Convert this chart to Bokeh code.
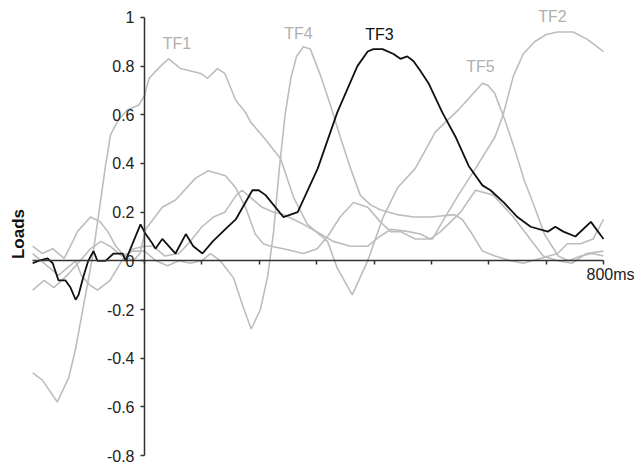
import math
from bokeh.plotting import figure
from bokeh.models import LinearAxis, FixedTicker, Label, Range1d
from bokeh.core.properties import value
from bokeh.embed import file_html
from bokeh.resources import INLINE

# ---------------- data ----------------
t_tf1 = [-195, -178, -152, -138, -132, -120, -106, -91, -80, -68, -59, -45, -30, -10, 0, 8, 28, 42, 63, 98,
         110, 127, 140, 159, 176, 185, 207, 237, 260, 284, 319, 336, 362, 389, 416, 441, 472, 507, 547, 589,
         599, 610, 628, 645, 662, 680, 697, 721, 739, 760, 780, 800]
v_tf1 = [-0.46, -0.49, -0.58, -0.51, -0.48, -0.36, -0.18, 0.01, 0.19, 0.39, 0.52, 0.58, 0.62, 0.64, 0.68, 0.75, 0.80, 0.83, 0.79, 0.77,
         0.75, 0.79, 0.77, 0.66, 0.61, 0.57, 0.51, 0.42, 0.26, 0.15, 0.08, -0.03, -0.14, 0.0, 0.18, 0.30, 0.38, 0.53, 0.62, 0.73,
         0.72, 0.69, 0.58, 0.46, 0.33, 0.22, 0.11, 0.02, 0.0, 0.02, 0.03, 0.02]

t_tf2 = [-195, -178, -160, -140, -125, -117, -94, -77, -64, -50, -35, -20, -8, 2, 31, 54, 89, 111, 141, 159,
         176, 193, 207, 220, 242, 277, 301, 319, 341, 364, 389, 411, 429, 446, 472, 502, 519, 547, 577, 611,
         625, 643, 660, 680, 700, 720, 747, 772, 800]
v_tf2 = [0.06, 0.03, 0.05, 0.01, 0.08, 0.12, 0.18, 0.16, 0.12, 0.06, 0.02, 0.0, 0.03, 0.13, 0.22, 0.25, 0.34, 0.37, 0.35, 0.30,
         0.22, 0.11, 0.07, 0.06, 0.05, 0.03, 0.05, 0.10, 0.18, 0.24, 0.22, 0.16, 0.12, 0.12, 0.09, 0.09, 0.16, 0.27, 0.38, 0.51,
         0.60, 0.76, 0.85, 0.90, 0.93, 0.94, 0.94, 0.91, 0.86]

t_tf4 = [-195, -175, -158, -135, -112, -94, -76, -60, -40, -20, 0, 20, 40, 60, 80, 100, 115, 132, 155, 172,
         186, 202, 215, 225, 235, 245, 255, 265, 277, 289, 307, 324, 341, 359, 376, 394, 411, 440, 470, 500,
         540, 554, 571, 589, 611, 638, 660, 690, 720, 737, 760, 782, 800]
v_tf4 = [-0.12, -0.08, -0.11, -0.06, 0.0, 0.05, 0.08, 0.06, 0.02, 0.04, 0.04, 0.0, -0.02, 0.0, -0.01, 0.0, 0.03, 0.0, -0.07, -0.19,
         -0.28, -0.20, -0.06, 0.12, 0.38, 0.60, 0.75, 0.84, 0.88, 0.87, 0.76, 0.64, 0.51, 0.38, 0.27, 0.23, 0.21, 0.19, 0.18, 0.18,
         0.19, 0.17, 0.11, 0.04, 0.02, 0.0, -0.01, 0.01, 0.03, 0.07, 0.07, 0.09, 0.17]

t_tf5 = [-195, -180, -165, -150, -135, -120, -110, -95, -82, -60, -37, -19, 0, 15, 35, 60, 80, 100, 120, 140,
         160, 170, 185, 205, 225, 242, 277, 307, 329, 359, 389, 410, 430, 460, 481, 498, 516, 551, 577, 608,
         643, 672, 695, 720, 745, 770, 800]
v_tf5 = [0.03, 0.0, -0.03, -0.06, -0.03, 0.0, -0.06, -0.10, -0.12, -0.08, 0.01, 0.05, 0.06, 0.06, 0.02, 0.03, 0.08, 0.14, 0.18, 0.20,
         0.27, 0.29, 0.26, 0.22, 0.20, 0.19, 0.15, 0.11, 0.08, 0.06, 0.06, 0.10, 0.13, 0.12, 0.11, 0.09, 0.12, 0.20, 0.29, 0.27,
         0.18, 0.09, 0.02, 0.0, -0.01, 0.03, 0.04]

t_tf3 = [-195, -185, -169, -160, -150, -138, -129, -120, -115, -106, -98, -89, -82, -68, -54, -38, -33, -21, -7, 2,
         14, 19, 31, 54, 72, 85, 101, 119, 141, 159, 188, 199, 211, 242, 267, 302, 336, 371, 389, 399,
         415, 434, 446, 458, 469, 481, 495, 519, 542, 565, 589, 603, 626, 650, 673, 703, 716, 730, 751, 778,
         800]
v_tf3 = [-0.01, 0.0, 0.01, -0.01, -0.08, -0.08, -0.11, -0.16, -0.14, -0.06, 0.0, 0.04, 0.0, 0.0, 0.03, 0.03, 0.0, 0.07, 0.15, 0.11,
         0.07, 0.05, 0.09, 0.03, 0.11, 0.06, 0.03, 0.08, 0.13, 0.17, 0.29, 0.29, 0.27, 0.18, 0.20, 0.38, 0.61, 0.80, 0.86, 0.87,
         0.87, 0.85, 0.83, 0.84, 0.82, 0.78, 0.73, 0.61, 0.51, 0.39, 0.31, 0.29, 0.24, 0.18, 0.14, 0.12, 0.14, 0.12, 0.10, 0.16,
         0.09]

y_ticks = [-0.8, -0.6, -0.4, -0.2, 0.0, 0.2, 0.4, 0.6, 0.8, 1.0]
y_tick_labels = ["-0.8", "-0.6", "-0.4", "-0.2", "0", "0.2", "0.4", "0.6", "0.8", "1"]
x_ticks = [0, 100, 200, 300, 400, 500, 600, 700, 800]
x_end_label = "800ms"
y_title = "Loads"

factor_names = ["TF1", "TF4", "TF3", "TF5", "TF2"]

# ---------------- layout ----------------
W, H = 643, 466
p = figure(width=W, height=H, x_range=Range1d(-251.0, 869.7), y_range=Range1d(-0.8451, 1.0697),
           x_axis_type=None, y_axis_type=None, toolbar_location=None, output_backend="svg",
           min_border=0, outline_line_color=None, background_fill_color="white")

FONT = "Liberation Sans"
GRAY = "#bdbdbd"
GRAY_TXT = "#b0b0b0"

for t, v in [(t_tf1, v_tf1), (t_tf2, v_tf2), (t_tf4, v_tf4), (t_tf5, v_tf5)]:
    p.line(t, v, line_color=GRAY, line_width=1.6)
p.line(t_tf3, v_tf3, line_color="#111111", line_width=1.8)

yaxis = LinearAxis(fixed_location=0, bounds=(y_ticks[0], y_ticks[-1]),
                   ticker=FixedTicker(ticks=y_ticks),
                   major_label_overrides=dict(zip(y_ticks, y_tick_labels)),
                   major_tick_out=4, major_tick_in=0, minor_tick_out=0, minor_tick_in=0,
                   major_label_standoff=6, major_label_text_font=FONT,
                   major_label_text_font_size="16px", major_label_text_color="#222222",
                   axis_line_color="#333333", axis_line_width=1.5,
                   major_tick_line_color="#333333", major_tick_line_width=1.5)
p.add_layout(yaxis, "left")

xaxis = LinearAxis(fixed_location=0, bounds=(t_tf3[0], x_ticks[-1]),
                   ticker=FixedTicker(ticks=x_ticks),
                   major_label_overrides={t: "" for t in x_ticks},
                   major_tick_out=4, major_tick_in=0, minor_tick_out=0, minor_tick_in=0,
                   axis_line_color="#333333", axis_line_width=1.5,
                   major_tick_line_color="#333333", major_tick_line_width=1.5)
p.add_layout(xaxis, "below")

p.add_layout(Label(x=x_ticks[-1], y=0, text=x_end_label, x_offset=-17, y_offset=-5,
                   text_baseline="top", text_align="left", text_font=FONT,
                   text_font_size="16px", text_color="#222222"))

p.add_layout(Label(x=-219.6, y=0.11, text=y_title, angle=math.pi / 2,
                   text_align="center", text_baseline="middle", text_font=FONT,
                   text_font_style="bold", text_font_size="17px", text_color="#111111"))

lab_x = [56.5, 268.4, 409.6, 585.6, 711.0]
lab_y = [0.893, 0.934, 0.930, 0.799, 1.004]
lab_c = [GRAY_TXT, GRAY_TXT, "#111111", GRAY_TXT, GRAY_TXT]
p.text(x=lab_x, y=lab_y, text=factor_names, text_color=lab_c, text_align="center",
       text_baseline="middle", text_font=value(FONT), text_font_size="16px")

open("out.html", "w").write(file_html(p, INLINE))
